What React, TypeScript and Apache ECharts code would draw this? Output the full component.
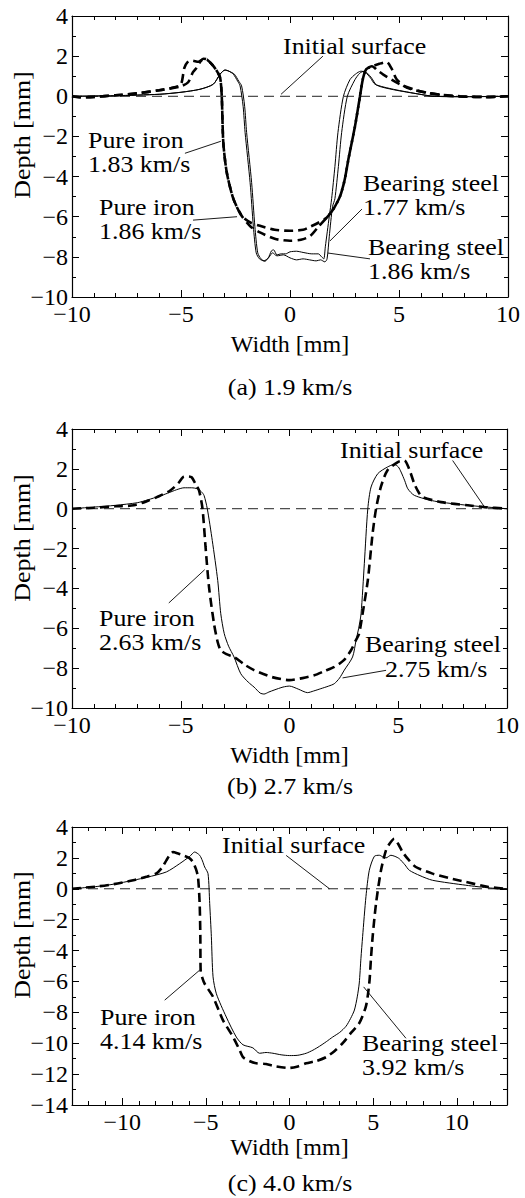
import React, { useEffect, useRef } from "react";
import * as echarts from "echarts";

const FONT = "'Liberation Serif', 'Times New Roman', Tinos, Times, serif";
const FS = 24;

// ---------- Panel (a) 1.9 km/s ----------
const ironA183: number[][] = [[-10,0],[-9.6,-0.05],[-9,-0.03],[-8,0.05],[-7,0.15],[-6,0.3],[-5.3,0.45],[-5.0,0.6],[-4.85,1.4],[-4.7,1.7],[-4.5,1.78],[-4.2,1.72],[-3.95,1.85],[-3.8,1.82],[-3.55,1.55],[-3.35,1.25],[-3.2,0.9],[-3.13,0],[-3.06,-2.3],[-2.9,-3.8],[-2.6,-5.1],[-2.22,-5.95],[-1.8,-6.3],[-1.38,-6.45],[-0.7,-6.65],[0,-6.7],[0.6,-6.65],[0.92,-6.5],[1.3,-6.3],[1.68,-6.05],[2.0,-5.6],[2.29,-5.0],[2.5,-4.2],[2.68,-3.13],[2.98,-1.5],[3.21,0],[3.35,0.9],[3.5,1.35],[3.8,1.5],[4.1,1.62],[4.43,1.71],[4.65,1.4],[4.89,0.85],[5.35,0.43],[6.27,0.17],[7.0,0.07],[7.8,0],[8.5,-0.03],[9,-0.04],[10,0]];
const ironA186: number[][] = [[-10,0],[-9.6,-0.05],[-9,-0.03],[-8,0.05],[-7,0.15],[-6,0.3],[-5.0,0.5],[-4.67,0.7],[-4.45,1.2],[-4.28,1.43],[-4.1,1.75],[-3.98,1.87],[-3.82,1.84],[-3.55,1.55],[-3.35,1.25],[-3.2,0.9],[-3.13,0],[-3.06,-2.3],[-2.9,-3.8],[-2.6,-5.1],[-2.22,-5.95],[-1.8,-6.5],[-1.38,-6.78],[-0.7,-7.1],[0,-7.2],[0.5,-7.15],[0.92,-6.97],[1.3,-6.5],[1.68,-6.05],[2.0,-5.6],[2.29,-5.0],[2.5,-4.2],[2.68,-3.13],[2.98,-1.5],[3.21,0],[3.35,0.9],[3.5,1.35],[3.76,1.5],[4.0,1.3],[4.28,1.08],[5.04,0.6],[5.96,0.25],[7.18,0.03],[8,-0.02],[9,-0.03],[10,0]];
const steelA177: number[][] = [[-10,0],[-8,0.03],[-6,0.1],[-5,0.2],[-4.13,0.35],[-3.52,0.6],[-3.21,1.1],[-2.98,1.31],[-2.8,1.25],[-2.6,1.1],[-2.4,0.75],[-2.29,0.52],[-2.15,-0.5],[-2.06,-1.8],[-1.83,-4.3],[-1.68,-6.5],[-1.55,-7.8],[-1.4,-8.1],[-1.2,-8.2],[-1.0,-8.05],[-0.85,-7.7],[-0.75,-7.65],[-0.6,-7.9],[-0.4,-7.85],[-0.2,-7.85],[0,-7.75],[0.3,-7.72],[0.6,-7.78],[1.0,-7.85],[1.3,-7.85],[1.45,-8.0],[1.55,-8.1],[1.62,-7.5],[1.8,-6.0],[1.91,-5.1],[2.06,-3.5],[2.2,-1.8],[2.45,0],[2.75,0.83],[3.0,1.1],[3.25,1.25],[3.45,1.2],[3.7,0.9],[3.9,0.6],[4.74,0.35],[5.96,0.1],[6.56,0],[8,-0.02],[10,0]];
const steelA186: number[][] = [[-10,0],[-8,0.03],[-6,0.1],[-5,0.2],[-4.13,0.35],[-3.52,0.6],[-3.21,1.1],[-2.98,1.31],[-2.8,1.25],[-2.55,1.1],[-2.35,0.75],[-2.22,0.52],[-2.08,-0.5],[-1.99,-1.8],[-1.76,-4.3],[-1.61,-6.5],[-1.48,-7.8],[-1.33,-8.1],[-1.15,-8.22],[-0.95,-8.0],[-0.8,-7.8],[-0.6,-7.95],[-0.3,-7.9],[0,-8.05],[0.3,-8.15],[0.6,-8.1],[0.9,-8.15],[1.2,-8.2],[1.4,-8.15],[1.6,-8.25],[1.7,-8.1],[1.8,-7.0],[1.95,-5.5],[2.06,-5.1],[2.22,-3.5],[2.37,-1.8],[2.63,0],[2.98,0.83],[3.2,1.15],[3.4,1.25],[3.55,1.15],[3.75,0.9],[3.98,0.55],[4.74,0.33],[5.96,0.1],[6.6,0],[8,-0.02],[10,0]];

// ---------- Panel (b) 2.7 km/s ----------
const ironB263: number[][] = [[-10,0],[-9,0.05],[-8,0.12],[-7.16,0.17],[-6.5,0.4],[-6.1,0.58],[-5.5,0.9],[-5.1,1.3],[-4.9,1.58],[-4.7,1.62],[-4.5,1.58],[-4.3,1.2],[-4.16,0.92],[-4.0,0],[-3.86,-1.92],[-3.7,-3.93],[-3.47,-5.77],[-3.3,-6.7],[-3.16,-7.1],[-2.9,-7.3],[-2.55,-7.44],[-2.1,-7.8],[-1.63,-8.1],[-0.8,-8.45],[0,-8.6],[0.6,-8.5],[1.14,-8.36],[1.6,-8.15],[2.06,-7.94],[2.5,-7.6],[2.83,-7.1],[3.05,-6.6],[3.2,-6.27],[3.36,-5.27],[3.6,-3.6],[3.82,-1.25],[3.98,0],[4.2,1.09],[4.5,1.92],[4.98,2.34],[5.28,2.42],[5.5,2.0],[5.74,1.25],[5.95,0.8],[6.13,0.58],[6.97,0.33],[8.2,0.17],[8.97,0.08],[10,0]];
const steelB275: number[][] = [[-10,0],[-9,0.08],[-8,0.17],[-7,0.3],[-6.5,0.45],[-6,0.62],[-5.6,0.78],[-5.2,0.95],[-4.85,1.05],[-4.5,1.05],[-4.24,1.0],[-4.05,0.85],[-3.93,0.67],[-3.78,0],[-3.55,-1.6],[-3.3,-3.6],[-3.16,-5.27],[-3.0,-6.27],[-2.8,-6.9],[-2.55,-7.44],[-2.24,-8.28],[-1.9,-8.7],[-1.63,-8.95],[-1.35,-9.25],[-1.17,-9.3],[-0.95,-9.2],[-0.71,-9.1],[-0.3,-8.95],[0,-8.9],[0.4,-9.05],[0.83,-9.23],[1.1,-9.15],[1.44,-9.03],[1.8,-8.9],[2.06,-8.78],[2.3,-8.5],[2.52,-8.1],[2.9,-7.44],[3.06,-6.6],[3.18,-6.0],[3.29,-5.27],[3.44,-2.76],[3.6,0],[3.75,1.09],[4.06,1.76],[4.5,2.09],[4.82,2.22],[5.0,2.1],[5.13,1.84],[5.3,1.4],[5.44,1.0],[5.74,0.67],[6.67,0.38],[8.2,0.17],[10,0]];

// ---------- Panel (c) 4.0 km/s ----------
const ironC414: number[][] = [[-13,0],[-11.5,0.15],[-10.5,0.3],[-9.34,0.55],[-8.5,0.8],[-7.95,1.0],[-7.6,1.4],[-7.36,1.84],[-7.15,2.2],[-6.96,2.38],[-6.7,2.3],[-6.36,2.17],[-6.0,2.0],[-5.77,1.74],[-5.6,1.3],[-5.47,0.77],[-5.37,-0.96],[-5.33,-3.0],[-5.31,-5.3],[-5.2,-5.8],[-5.07,-6.15],[-4.57,-7.0],[-3.98,-8.5],[-3.38,-9.58],[-3.0,-10.4],[-2.78,-10.9],[-2.4,-11.15],[-1.99,-11.3],[-1.4,-11.35],[-0.8,-11.5],[0,-11.6],[0.5,-11.5],[1.0,-11.3],[1.6,-11.15],[2.19,-10.9],[2.7,-10.5],[3.18,-10.0],[3.7,-9.3],[4.17,-8.7],[4.57,-7.6],[4.77,-6.1],[4.87,-4.5],[4.97,-3.1],[5.17,-0.96],[5.47,1.2],[5.77,2.5],[6.0,2.95],[6.26,3.24],[6.5,2.9],[6.76,2.38],[7.1,1.9],[7.55,1.41],[8.55,0.98],[9.5,0.7],[10.54,0.44],[11.9,0.12],[13,0]];
const steelC392: number[][] = [[-13,0],[-11.5,0.15],[-10.5,0.3],[-9.34,0.55],[-8.5,0.75],[-7.36,1.09],[-6.56,1.63],[-5.96,2.1],[-5.67,2.38],[-5.37,2.17],[-5.2,1.8],[-5.07,1.41],[-4.87,0.98],[-4.77,-0.96],[-4.67,-3.1],[-4.57,-5.7],[-4.37,-6.8],[-3.78,-8.3],[-3.18,-9.6],[-2.78,-10.1],[-2.19,-10.3],[-1.79,-10.65],[-1.4,-10.6],[-0.99,-10.65],[-0.5,-10.75],[0,-10.8],[0.5,-10.78],[1.0,-10.65],[1.4,-10.45],[1.79,-10.2],[2.2,-9.9],[2.58,-9.6],[3.0,-9.3],[3.38,-8.9],[3.65,-8.4],[3.88,-7.85],[4.05,-7.0],[4.17,-6.1],[4.27,-4.5],[4.37,-3.1],[4.57,-0.5],[4.77,1.2],[5.07,2.1],[5.37,2.17],[5.6,2.05],[5.77,2.0],[6.06,2.17],[6.3,2.1],[6.56,1.95],[6.9,1.55],[7.16,1.2],[7.8,0.85],[8.55,0.55],[10.54,0.23],[12,0.05],[13,0]];

// Initial surfaces
const surfaceA: number[][] = [[-10,0],[10,0]];
const surfaceB: number[][] = [[-10,0],[10,0]];
const surfaceC: number[][] = [[-13,0],[13,0]];

// Leader lines (data coordinates)
const leadersA: number[][][] = [
  [[1.51,2.0],[-0.41,0.1]],
  [[-4.82,-2.84],[-3.17,-2.24]],
  [[-4.45,-6.17],[-2.43,-6.0]],
  [[3.3,-5.62],[1.83,-7.21]],
  [[3.67,-8.1],[1.74,-7.81]],
];
const leadersB: number[][][] = [
  [[7.5,2.42],[8.95,0.11]],
  [[-5.55,-4.73],[-3.9,-3.06]],
  [[4.44,-8.11],[2.44,-8.49]],
];
const leadersC: number[][][] = [
  [[-0.2,2.16],[2.39,0.0]],
  [[-7.46,-7.21],[-5.37,-5.27]],
  [[4.43,-6.35],[6.96,-9.68]],
];

// Tick values
const xTicksC = [-10, -5, 0, 5, 10];

// Annotation texts
const annA = [
  { lines: ["Initial surface"], x: 283, y: 46 },
  { lines: ["Pure iron", "1.83 km/s"], x: 88, y: 140 },
  { lines: ["Pure iron", "1.86 km/s"], x: 99, y: 207 },
  { lines: ["Bearing steel", "1.77 km/s"], x: 363, y: 183 },
  { lines: ["Bearing steel", "1.86 km/s"], x: 368, y: 247 },
];
const annB = [
  { lines: ["Initial surface"], x: 340, y: 450 },
  { lines: ["Pure iron", "2.63 km/s"], x: 99, y: 618 },
  { lines: ["Bearing steel"], x: 365, y: 644 },
  { lines: ["2.75 km/s"], x: 385, y: 669 },
];
const annC = [
  { lines: ["Initial surface"], x: 222, y: 845 },
  { lines: ["Pure iron", "4.14 km/s"], x: 100, y: 1017 },
  { lines: ["Bearing steel", "3.92 km/s"], x: 362, y: 1043 },
];

const fmt = (v: number) => (v < 0 ? "\u2212" + Math.abs(v) : String(v));

export default function App() {
  const ref = useRef<HTMLDivElement>(null);
  useEffect(() => {
    if (!ref.current) return;
    const chart = echarts.init(ref.current, null, { renderer: "svg" });

    const grids = [
      { left: 72, top: 16, width: 436, height: 281 },
      { left: 72, top: 429, width: 435, height: 279 },
      { left: 72, top: 827, width: 435, height: 278 },
    ];
    const xRanges = [[-10, 10], [-10, 10], [-13, 13]];
    const yRanges = [[-10, 4], [-10, 4], [-14, 4]];
    const nameGaps = [35, 35, 29];

    const lineBlack = { color: "#000", width: 1.2 };
    const tickStyle = { color: "#000", width: 1 };
    const labelStyle = { fontFamily: FONT, fontSize: FS, color: "#000" };

    const xAxis: any[] = [];
    const yAxis: any[] = [];
    const mainX: number[] = [];
    const mainY: number[] = [];

    grids.forEach((g, gi) => {
      const [xmin, xmax] = xRanges[gi];
      const isC = gi === 2;
      ["bottom", "top"].forEach((pos) => {
        const ax: any = {
          type: "value",
          gridIndex: gi,
          position: pos,
          min: xmin,
          max: xmax,
          splitLine: { show: false },
          axisLine: { show: true, onZero: false, lineStyle: lineBlack },
          axisTick: { show: true, inside: true, length: 7, lineStyle: tickStyle },
          axisLabel: { show: pos === "bottom", formatter: fmt, margin: 5, ...labelStyle },
        };
        if (isC) {
          ax.axisTick.customValues = xTicksC;
          ax.axisLabel.customValues = xTicksC;
        } else {
          ax.interval = 5;
          ax.minorTick = { show: true, splitNumber: 5, length: 4, lineStyle: tickStyle };
        }
        if (pos === "bottom") {
          ax.name = "Width [mm]";
          ax.nameLocation = "middle";
          ax.nameGap = nameGaps[gi];
          ax.nameTextStyle = { ...labelStyle };
          mainX[gi] = xAxis.length;
        }
        xAxis.push(ax);
        if (isC) {
          xAxis.push({
            type: "value",
            gridIndex: gi,
            position: pos,
            min: xmin,
            max: xmax,
            interval: 1,
            splitLine: { show: false },
            axisLine: { show: false, onZero: false },
            axisTick: { show: true, inside: true, length: 4, lineStyle: tickStyle },
            axisLabel: { show: false },
          });
        }
      });
      const [ymin, ymax] = yRanges[gi];
      ["left", "right"].forEach((pos) => {
        if (pos === "left") mainY[gi] = yAxis.length;
        yAxis.push({
          type: "value",
          gridIndex: gi,
          position: pos,
          min: ymin,
          max: ymax,
          interval: 2,
          splitLine: { show: false },
          axisLine: { show: true, onZero: false, lineStyle: lineBlack },
          axisTick: { show: true, inside: true, length: 7, lineStyle: tickStyle },
          minorTick: { show: true, splitNumber: 2, length: 4, lineStyle: tickStyle },
          axisLabel: { show: pos === "left", formatter: fmt, margin: 4, ...labelStyle },
        });
      });
    });

    const series: any[] = [];
    const addLine = (gi: number, data: number[][], style: any, smooth = 0.25) => {
      series.push({
        type: "line",
        xAxisIndex: mainX[gi],
        yAxisIndex: mainY[gi],
        data,
        showSymbol: false,
        symbol: "none",
        smooth,
        lineStyle: style,
        silent: true,
      });
    };
    const surfStyle = { color: "#222", width: 1, type: [10, 6] };
    const dashStyle = { color: "#000", width: 2.6, type: [9, 5] };
    const solidStyle = { color: "#000", width: 1 };
    const leaderStyle = { color: "#000", width: 0.9 };

    addLine(0, surfaceA, surfStyle, 0);
    addLine(0, steelA177, solidStyle);
    addLine(0, steelA186, solidStyle);
    addLine(0, ironA183, dashStyle);
    addLine(0, ironA186, dashStyle);
    leadersA.forEach((l) => addLine(0, l, leaderStyle, 0));

    addLine(1, surfaceB, surfStyle, 0);
    addLine(1, steelB275, solidStyle);
    addLine(1, ironB263, dashStyle);
    leadersB.forEach((l) => addLine(1, l, leaderStyle, 0));

    addLine(2, surfaceC, surfStyle, 0);
    addLine(2, steelC392, solidStyle);
    addLine(2, ironC414, dashStyle);
    leadersC.forEach((l) => addLine(2, l, leaderStyle, 0));

    const graphic: any[] = [];
    const addText = (text: string, x: number, y: number, align = "left", sx = 1.08) => {
      graphic.push({
        type: "text",
        x,
        y,
        scaleX: sx,
        style: { text, fontFamily: FONT, fontSize: FS, fill: "#000", align, verticalAlign: "middle" },
      });
    };
    [...annA, ...annB, ...annC].forEach((a) => {
      a.lines.forEach((t, i) => addText(t, a.x, a.y + i * 24));
    });
    addText("(a) 1.9 km/s", 290, 387, "center");
    addText("(b) 2.7 km/s", 290, 786, "center");
    addText("(c) 4.0 km/s", 290, 1183, "center");
    [135, 538, 935].forEach((cy) => {
      graphic.push({
        type: "text",
        x: 22,
        y: cy,
        rotation: Math.PI / 2,
        scaleX: 1.08,
        style: { text: "Depth [mm]", fontFamily: FONT, fontSize: FS, fill: "#000", align: "center", verticalAlign: "middle" },
      });
    });

    chart.setOption({
      animation: false,
      backgroundColor: "#fff",
      grid: grids.map((g) => ({ ...g, containLabel: false })),
      xAxis,
      yAxis,
      series,
      graphic,
    });
    return () => chart.dispose();
  }, []);
  return <div ref={ref} style={{ position: "absolute", left: 0, top: 0, width: 525, height: 1198 }} />;
}
